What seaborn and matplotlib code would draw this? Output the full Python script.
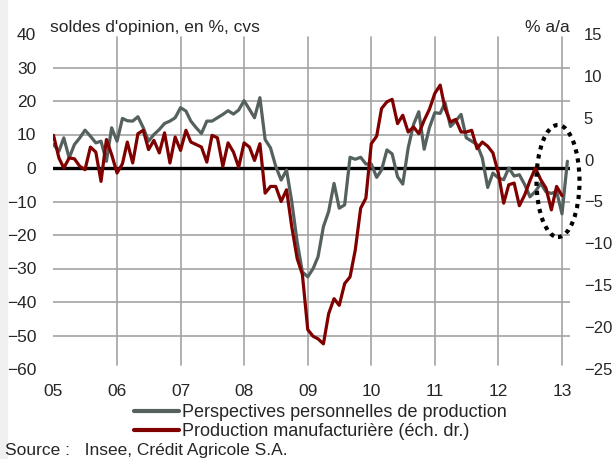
import numpy as np
import pandas as pd
import matplotlib
matplotlib.use("Agg")
import matplotlib.pyplot as plt
import matplotlib.dates as mdates
from matplotlib.patches import Ellipse, Rectangle
from matplotlib.lines import Line2D
import seaborn as sns

# monthly data, Jan 2005 -> Feb 2013
perspectives = [7, 5, 9, 3, 7, 9, 11.3, 9.5, 7.5, 8, 2, 12,
                8, 14.8, 14.1, 14, 15.3, 12, 8, 10, 11.5, 13.3, 14, 15,
                18, 17, 14, 12, 10.3, 14, 14, 15, 16, 17.1, 16.1, 17.3,
                20.1, 17.5, 15, 21, 8.5, 6, 0.5, -3.6, -0.6, -10, -22, -31,
                -32.5, -30, -26.5, -17.5, -13, -4.6, -12, -11, 3.2, 2.6, 3.2, 1.2,
                1.2, -2.8, -0.6, 5.4, 4.2, -2.6, -4.8, 6, 13, 16.8, 5.6, 12,
                16.5, 16.3, 19.5, 12.4, 14, 16, 9, 8, 7, 3, -5.8, -1.5,
                -3, -3.5, 0, -2.4, -2, -5, -8.6, -7, -4.6, -7.1, -7.6, -7,
                -13.7, 2]
production = [2.9, 0.2, -1, 0.2, 0.1, -0.8, -1.2, 1.5, 0.9, -2.6, 2.4, 0.6,
              -1.6, -0.5, 2.1, -0.4, 3.1, 3.5, 1.2, 2.3, 0.8, 3.2, -0.4, 2.7,
              1.1, 3.5, 2.1, 1.8, 1.5, -0.3, 2.9, 2.6, -0.8, 2.0, 0.9, -0.9,
              2.0, 1.5, -0.1, 1.9, -4.0, -3.2, -3.2, -5.0, -3.6, -8.0, -11.8, -13.7,
              -20.3, -21.1, -21.4, -22.0, -18.4, -16.6, -17.4, -14.8, -14.0, -10.8, -5.8, -4.6,
              1.9, 2.8, 6.1, 6.9, 7.2, 4.3, 5.3, 3.3, 3.9, 3.1, 4.7, 6.0,
              7.9, 8.9, 6.1, 4.5, 4.8, 3.3, 3.3, 3.5, 1.3, 2.1, 1.6, 0.8,
              -1.6, -5.2, -3.0, -2.8, -5.5, -4.2, -2.5, -1.0, -2.4, -3.4, -6.0, -3.2,
              -4.3]
dates = pd.date_range("2005-01-01", periods=len(perspectives), freq="MS")
year_labels = ["05", "06", "07", "08", "09", "10", "11", "12", "13"]
left_ticks = list(range(-60, 41, 10))
right_ticks = list(range(-25, 16, 5))

GREY = "#55615f"
RED = "#800000"
GRID = "#a3a3a3"

df_p = pd.DataFrame({"date": dates, "val": perspectives})
df_m = pd.DataFrame({"date": dates[:len(production)], "val": production})

sns.set_theme(style="white")
plt.rcParams["font.family"] = ["Liberation Sans", "DejaVu Sans"]
FS = 12.5

fig = plt.figure(figsize=(6.14, 4.59), dpi=100)
fig.add_artist(Rectangle((0, 0), 7 / 614, 1, transform=fig.transFigure,
                         color="#f0f0f0", zorder=-5))
ax = fig.add_axes([53 / 614, 1 - 369 / 459, 517 / 614, 335 / 459])
ax2 = ax.twinx()

# grid drawn by hand (no line at the axis edges)
for v in left_ticks[1:-1]:
    if v != 0:
        ax.axhline(v, color=GRID, lw=1.2, zorder=0)
year_starts = pd.date_range("2005-01-01", periods=len(year_labels), freq="YS")
for d in year_starts[1:]:
    ax.axvline(d, ymin=0.012, ymax=0.99, color=GRID, lw=1.2, zorder=0)
ax.axhline(0, color="black", lw=2.4, zorder=1)

sns.lineplot(data=df_p, x="date", y="val", ax=ax, color=GREY, lw=2.3,
             legend=False, zorder=3)
sns.lineplot(data=df_m, x="date", y="val", ax=ax2, color=RED, lw=2.3,
             legend=False, zorder=3)

ax.set_xlim(pd.Timestamp("2004-12-29"), pd.Timestamp("2013-02-16"))
ax.set_ylim(-60, 40)
ax2.set_ylim(-25, 15)
ax.set_yticks(left_ticks)
ax2.set_yticks(right_ticks)
ax.set_xticks(year_starts)
ax.set_xticklabels(year_labels)
for a in (ax, ax2):
    a.set_xlabel("")
    a.set_ylabel("")
    for s in a.spines.values():
        s.set_visible(False)
ax.tick_params(axis="y", length=0, pad=12, labelsize=FS)
ax2.tick_params(axis="y", length=0, pad=10, labelsize=12)
ax.tick_params(axis="x", length=0, pad=10.5, labelsize=FS)

# dotted ellipse around the last points
ax2.add_patch(Ellipse(((558 - 53) / 517, (369 - 181) / 335), 43 / 517, 112 / 335,
                      transform=ax2.transAxes, fill=False, ec="black",
                      lw=3, ls=(0, (1, 1.2)), clip_on=False, zorder=5))

fig.text(50 / 614, 1 - 32 / 459, "soldes d'opinion, en %, cvs",
         fontsize=FS, va="baseline", ha="left")
fig.text(570 / 614, 1 - 32 / 459, "% a/a", fontsize=FS, va="baseline", ha="right")

handles = [Line2D([], [], color=GREY, lw=3), Line2D([], [], color=RED, lw=3)]
fig.legend(handles, ["Perspectives personnelles de production",
                     "Production manufacturière (éch. dr.)"],
           loc="upper left", bbox_to_anchor=(134 / 614, 1 - 404 / 459),
           frameon=False, fontsize=13, handlelength=2.5, handletextpad=0.18,
           labelspacing=0.12, borderpad=0, borderaxespad=0)

fig.text(5 / 614, 1 - 451 / 459, "Source :   Insee, Crédit Agricole S.A.",
         fontsize=FS, va="center", ha="left")

fig.savefig("out.png", dpi=100)
